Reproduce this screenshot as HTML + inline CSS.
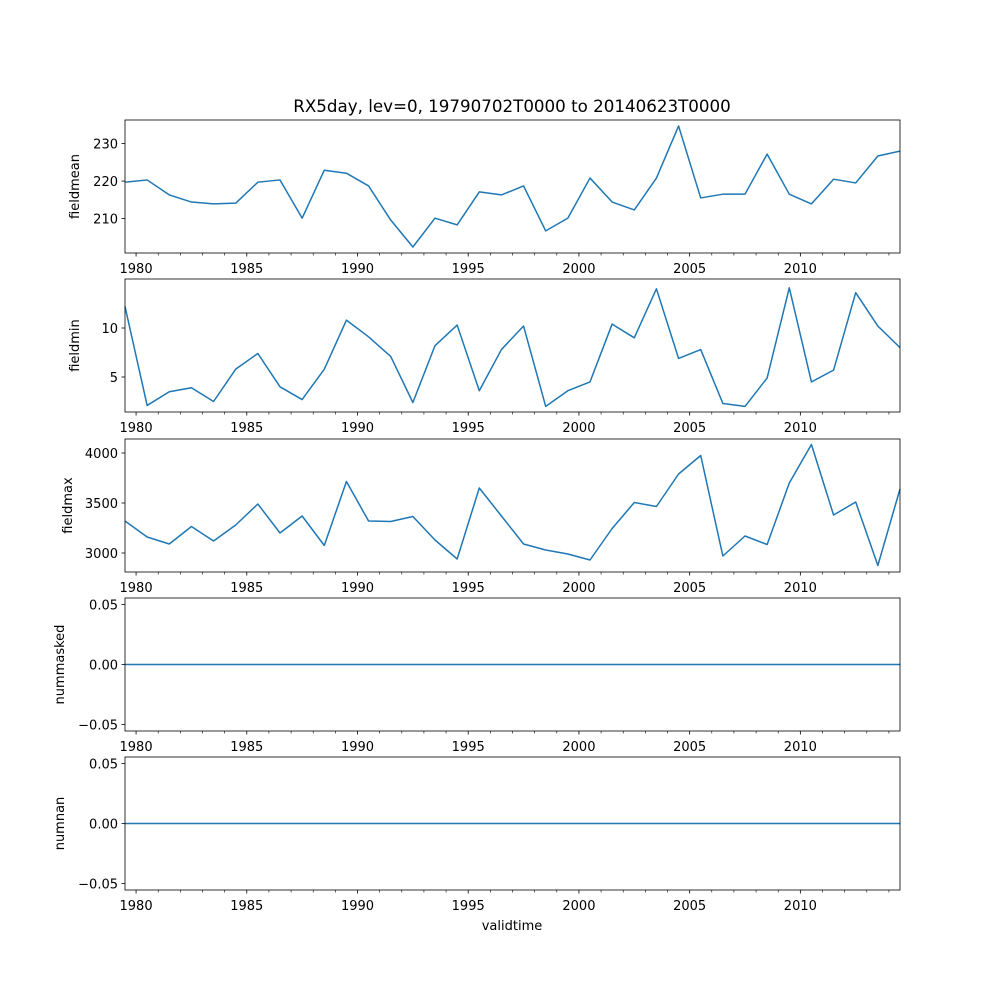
<!DOCTYPE html>
<html><head><meta charset="utf-8"><style>
body{margin:0;background:#fff;}
svg{display:block;font-family:"DejaVu Sans","Liberation Sans",sans-serif;}
</style></head><body>
<svg id="chart" width="1000" height="1000" viewBox="0 0 1000 1000" xmlns="http://www.w3.org/2000/svg">
<rect width="1000" height="1000" fill="#fff"/>
<text x="512" y="112" font-size="16.7" text-anchor="middle">RX5day, lev=0, 19790702T0000 to 20140623T0000</text>
<text x="512" y="930" font-size="13" text-anchor="middle">validtime</text>
</svg>
<script>
const years = [1979.5,1980.5,1981.5,1982.5,1983.5,1984.5,1985.5,1986.5,1987.5,1988.5,1989.5,1990.5,1991.5,1992.5,1993.5,1994.5,1995.5,1996.5,1997.5,1998.5,1999.5,2000.5,2001.5,2002.5,2003.5,2004.5,2005.5,2006.5,2007.5,2008.5,2009.5,2010.5,2011.5,2012.5,2013.5,2014.5];
const fieldmean = [219.7,220.3,216.3,214.4,213.9,214.1,219.7,220.3,210.1,222.9,222.1,218.7,209.6,202.4,210.1,208.3,217.1,216.3,218.7,206.7,210.1,220.8,214.4,212.3,220.8,234.7,215.5,216.5,216.5,227.2,216.5,213.9,220.5,219.5,226.7,228.0];
const fieldmin = [12.2,2.1,3.5,3.9,2.5,5.8,7.4,4.0,2.7,5.8,10.8,9.1,7.1,2.4,8.2,10.3,3.6,7.8,10.2,2.0,3.6,4.5,10.4,9.0,14.0,6.9,7.8,2.3,2.0,4.9,14.1,4.5,5.7,13.6,10.2,8.0];
const fieldmax = [3320,3160,3090,3265,3120,3280,3490,3200,3370,3075,3715,3320,3315,3365,3130,2940,3650,3370,3090,3030,2990,2930,3245,3505,3465,3790,3975,2970,3170,3085,3700,4085,3380,3510,2875,3640];
const nummasked = years.map(()=>0);
const numnan = years.map(()=>0);
const xTicks = [1980,1985,1990,1995,2000,2005,2010];

const svg = document.getElementById('chart');
const NS = 'http://www.w3.org/2000/svg';
const X0=125, X1=900, xmin=1979.5, xmax=2014.5;
const sx = v => X0 + (v-xmin)/(xmax-xmin)*(X1-X0);
function mk(tag, attrs, parent){ const e=document.createElementNS(NS,tag); for(const k in attrs) e.setAttribute(k,attrs[k]); (parent||svg).appendChild(e); return e; }

const panels = [
 {name:'fieldmean', top:120, bot:253, ymin:200.8, ymax:236.3, ticks:[210,220,230], lab:v=>String(v), data:fieldmean},
 {name:'fieldmin', top:279, bot:412, ymin:1.43, ymax:15.0, ticks:[5,10], lab:v=>String(v), data:fieldmin},
 {name:'fieldmax', top:439, bot:572, ymin:2810, ymax:4140, ticks:[3000,3500,4000], lab:v=>String(v), data:fieldmax},
 {name:'nummasked', top:598, bot:731, ymin:-0.0554, ymax:0.0554, ticks:[-0.05,0,0.05], lab:v=>v.toFixed(2).replace('-','−'), data:nummasked},
 {name:'numnan', top:757, bot:890, ymin:-0.0554, ymax:0.0554, ticks:[-0.05,0,0.05], lab:v=>v.toFixed(2).replace('-','−'), data:numnan}
];

panels.forEach(p=>{
  const g = mk('g',{});
  
  
  const sy = v => p.bot - (v-p.ymin)/(p.ymax-p.ymin)*(p.bot-p.top);
  const d = p.data.map((v,i)=>(i?'L':'M')+sx(years[i]).toFixed(2)+','+sy(v).toFixed(2)).join(' ');
  const path = mk('path',{d:d,fill:'none',stroke:'#1f77b4','stroke-width':1.5,'stroke-linejoin':'round'},g);
  
  
  const fr = mk('rect',{x:X0,y:p.top,width:X1-X0,height:p.bot-p.top,fill:'none',stroke:'#000','stroke-width':0.8},g);
  
  
  for(let y=1980;y<=2014;y++){
    if(xTicks.includes(y)) continue;
    mk('line',{x1:sx(y),x2:sx(y),y1:p.bot,y2:p.bot+2.5,stroke:'#000','stroke-width':0.6},g);
  }
  xTicks.forEach(t=>{
    mk('line',{x1:sx(t),x2:sx(t),y1:p.bot,y2:p.bot+3.5,stroke:'#000','stroke-width':0.8},g);
    const tx = mk('text',{x:sx(t),y:p.bot+20,'font-size':13,'text-anchor':'middle'},g);
    tx.textContent = t;
    
    
  });
  p.ticks.forEach(t=>{
    const y = sy(t);
    mk('line',{x1:X0-3.5,x2:X0,y1:y,y2:y,stroke:'#000','stroke-width':0.8},g);
    const tx = mk('text',{x:X0-7,y:y+5,'font-size':13,'text-anchor':'end'},g);
    tx.textContent = p.lab(t);
    
    
  });
  const cy = (p.top+p.bot)/2;
  const lx = p.name==='fieldmean'||p.name==='fieldmin' ? 79 : (p.name==='fieldmax'?72:64);
  const yl = mk('text',{x:lx,y:cy,'font-size':13,'text-anchor':'middle',transform:`rotate(-90 ${lx} ${cy})`},g);
  yl.textContent = p.name;
  
  
});
</script>
</body></html>
